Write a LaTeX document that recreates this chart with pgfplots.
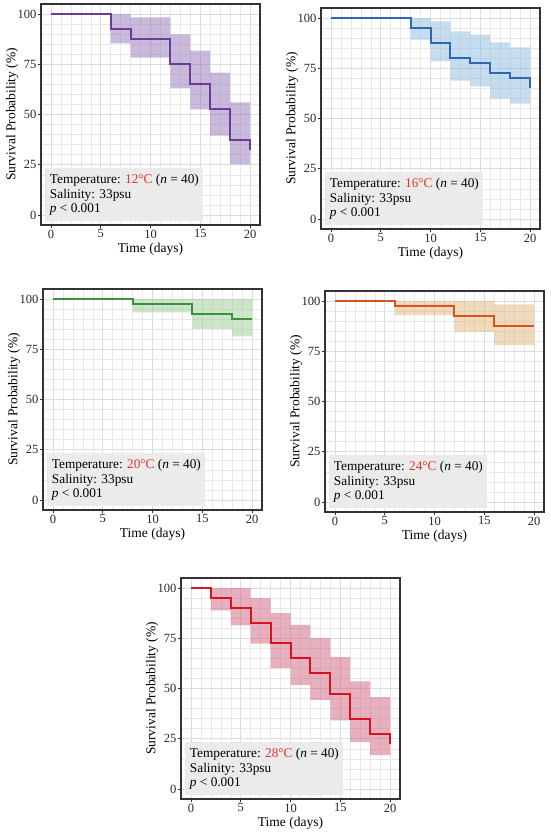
\documentclass[border=0pt]{standalone}
\usepackage{pgfplots}
\pgfplotsset{compat=1.18}
\usepackage{pgfplotstable}
\usepgfplotslibrary{fillbetween}
\usepackage{fontspec}
\setmainfont{Liberation Serif}

\definecolor{lpurple}{HTML}{6A3D9A}\definecolor{bpurple}{HTML}{9375B7}
\definecolor{lblue}{HTML}{2F67B8}\definecolor{bblue}{HTML}{8DB9DF}
\definecolor{lgreen}{HTML}{3A923A}\definecolor{bgreen}{HTML}{9BCB91}
\definecolor{lorange}{HTML}{D8531F}\definecolor{borange}{HTML}{E1B579}
\definecolor{lred}{HTML}{D7141E}\definecolor{bred}{HTML}{CD617D}
\definecolor{tempred}{HTML}{E5322D}
\definecolor{boxgray}{HTML}{EBEBEB}
\definecolor{frame}{HTML}{333333}
\definecolor{gridmaj}{HTML}{DCDCDC}
\definecolor{gridmin}{HTML}{E8E8E8}

\pgfplotstableread{
x s lo hi
0 100 100 100
6 92.5 85.4 100
8 87.5 78.3 98.3
12 75 63 89.9
14 65 52.6 81.8
16 52.5 39.5 70.8
18 37.5 25.2 56
20 32.5 25.2 56
}\tA
\pgfplotstableread{
x s lo hi
0 100 100 100
8 95 89.2 100
10 87.5 78.4 98.3
12 80 68.8 93.4
14 77.5 66 91.7
16 72.5 59.9 87.9
18 70 57.4 85.4
20 65 57.4 85.4
}\tB
\pgfplotstableread{
x s lo hi
0 100 100 100
8 97.5 93.4 100
14 92.5 85.1 100
18 90 81.4 100
20 90 81.4 100
}\tC
\pgfplotstableread{
x s lo hi
0 100 100 100
6 97.5 93 100
12 92.5 84.7 100
16 87.5 78.1 98.3
20 87.5 78.1 98.3
}\tD
\pgfplotstableread{
x s lo hi
0 100 100 100
2 95 88.9 100
4 90 81.4 100
6 82.5 72.3 95
8 72.5 60.1 87.7
10 65 51.8 81.7
12 57.5 44.4 75.1
14 47.5 34.1 65.6
16 35 23.3 53.5
18 27.5 16.9 45.7
20 22.5 16.9 45.7
}\tE

\pgfplotsset{
  kmaxis/.style={
    scale only axis, width=219pt, height=221pt,
    xmin=-1, xmax=21, ymin=-5, ymax=105,
    xtick={0,5,10,15,20}, ytick={0,25,50,75,100},
    minor x tick num=4, minor y tick num=4,
    grid=both,
    major grid style={color=gridmaj, line width=0.6pt},
    minor grid style={color=gridmin, line width=0.5pt},
    axis line style={color=frame, line width=1.2pt},
    tick align=outside, major tick length=3pt, minor tick length=0pt,
    tick pos=left,
    tick style={color=frame, line width=0.8pt},
    /pgf/number format/assume math mode=true,
    tick label style={font=\fontsize{12.5}{12.5}\selectfont, text=black!85, inner sep=1.5pt},
    label style={font=\fontsize{13.5}{14}\selectfont, inner sep=0.5pt},
    xlabel={Time (days)}, ylabel={Survival Probability (\%)},
    xlabel style={at={(axis description cs:0.5,-0.11)}, anchor=center},
    ylabel style={at={(axis description cs:-0.132,0.5)}, anchor=center},
  },
  kmline/.style={const plot, line width=2pt, #1},
}
\newcommand{\infobox}[1]{%
  \node[fill=boxgray, anchor=south west, align=left,
        inner xsep=4.5pt, inner ysep=0pt, minimum width=153pt, minimum height=53pt,
        font=\fontsize{13.3}{14.5}\selectfont]
    at (axis cs:-0.57,-3.3)
    {Temperature: \textcolor{tempred}{#1°C} (\textit{n} = 40)\\Salinity: 33psu\\\textit{p} < 0.001};}

\begin{document}
\begin{tikzpicture}

\begin{axis}[kmaxis, at={(41pt,611pt)}, anchor=south west]
  \addplot[draw=none, name path=U1, const plot, forget plot] table[x=x,y=hi]{\tA};
  \addplot[draw=none, name path=L1, const plot, forget plot] table[x=x,y=lo]{\tA};
  \addplot[fill=bpurple, fill opacity=0.5, draw=none] fill between[of=U1 and L1];
  \addplot[kmline=lpurple] table[x=x,y=s]{\tA};
  \infobox{12}
\end{axis}

\begin{axis}[kmaxis, at={(321pt,607pt)}, anchor=south west]
  \addplot[draw=none, name path=U2, const plot, forget plot] table[x=x,y=hi]{\tB};
  \addplot[draw=none, name path=L2, const plot, forget plot] table[x=x,y=lo]{\tB};
  \addplot[fill=bblue, fill opacity=0.5, draw=none] fill between[of=U2 and L2];
  \addplot[kmline=lblue] table[x=x,y=s]{\tB};
  \infobox{16}
\end{axis}

\begin{axis}[kmaxis, at={(43pt,326pt)}, anchor=south west]
  \addplot[draw=none, name path=U3, const plot, forget plot] table[x=x,y=hi]{\tC};
  \addplot[draw=none, name path=L3, const plot, forget plot] table[x=x,y=lo]{\tC};
  \addplot[fill=bgreen, fill opacity=0.5, draw=none] fill between[of=U3 and L3];
  \addplot[kmline=lgreen] table[x=x,y=s]{\tC};
  \infobox{20}
\end{axis}

\begin{axis}[kmaxis, at={(325pt,324pt)}, anchor=south west]
  \addplot[draw=none, name path=U4, const plot, forget plot] table[x=x,y=hi]{\tD};
  \addplot[draw=none, name path=L4, const plot, forget plot] table[x=x,y=lo]{\tD};
  \addplot[fill=borange, fill opacity=0.5, draw=none] fill between[of=U4 and L4];
  \addplot[kmline=lorange] table[x=x,y=s]{\tD};
  \infobox{24}
\end{axis}

\begin{axis}[kmaxis, at={(181pt,37pt)}, anchor=south west]
  \addplot[draw=none, name path=U5, const plot, forget plot] table[x=x,y=hi]{\tE};
  \addplot[draw=none, name path=L5, const plot, forget plot] table[x=x,y=lo]{\tE};
  \addplot[fill=bred, fill opacity=0.5, draw=none] fill between[of=U5 and L5];
  \addplot[kmline=lred] table[x=x,y=s]{\tE};
  \infobox{28}
\end{axis}

\path (0pt,0pt) (550pt,836pt);
\end{tikzpicture}
\end{document}
